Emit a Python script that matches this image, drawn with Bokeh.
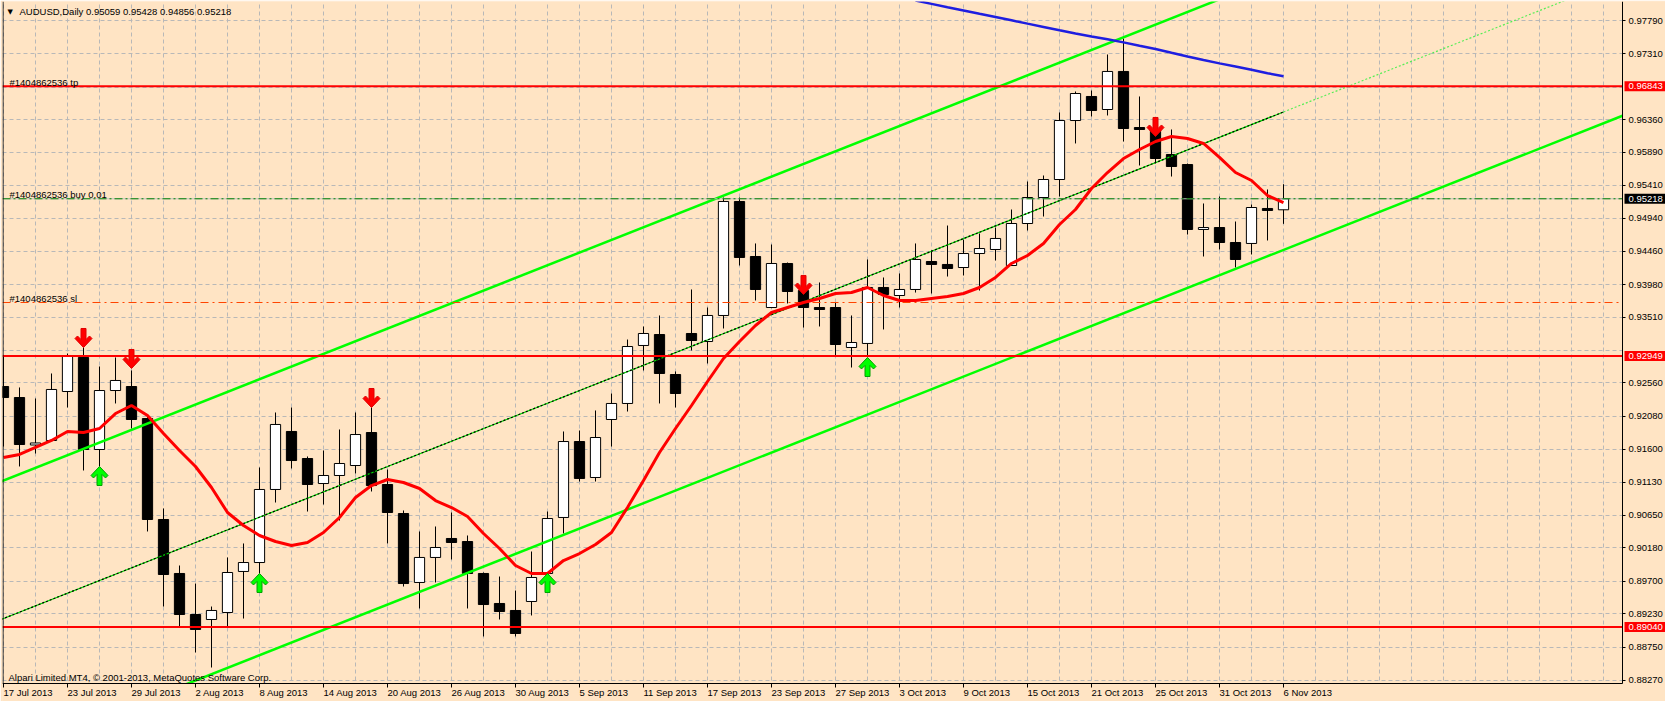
from bokeh.plotting import figure
from bokeh.models import Range1d, FixedTicker, PrintfTickFormatter
from bokeh.embed import file_html
from bokeh.resources import INLINE
from bokeh.core.properties import value

# ---------------- data ----------------
symbol = "AUDUSD,Daily"
date_labels = ["17 Jul 2013", "23 Jul 2013", "29 Jul 2013", "2 Aug 2013", "8 Aug 2013",
               "14 Aug 2013", "20 Aug 2013", "26 Aug 2013", "30 Aug 2013", "5 Sep 2013",
               "11 Sep 2013", "17 Sep 2013", "23 Sep 2013", "27 Sep 2013", "3 Oct 2013",
               "9 Oct 2013", "15 Oct 2013", "21 Oct 2013", "25 Oct 2013", "31 Oct 2013",
               "6 Nov 2013"]
label_bars = list(range(0, 81, 4))

open_ = [0.92509, 0.92350, 0.91665, 0.91730, 0.92437, 0.92928, 0.91600, 0.92451, 0.92509, 0.92047,
         0.90590, 0.89811, 0.89219, 0.89147, 0.89248, 0.89840, 0.89969, 0.91023, 0.91860, 0.91470,
         0.91109, 0.91225, 0.91369, 0.91845, 0.91095, 0.90676, 0.89681, 0.90042, 0.90316, 0.90272,
         0.89811, 0.89378, 0.89277, 0.89407, 0.89811, 0.90619, 0.91715, 0.91196, 0.92033, 0.92264,
         0.93101, 0.93259, 0.92682, 0.93274, 0.93158, 0.93534, 0.95179, 0.94385, 0.93649, 0.94284,
         0.93894, 0.93649, 0.93649, 0.93072, 0.93130, 0.93938, 0.93822, 0.93909, 0.94313, 0.94270,
         0.94226, 0.94428, 0.94486, 0.94255, 0.94861, 0.95236, 0.95496, 0.96347, 0.96694, 0.96506,
         0.97055, 0.96246, 0.96218, 0.95857, 0.95712, 0.94775, 0.94803, 0.94587, 0.94573, 0.95078,
         0.95059]
high = [0.92942, 0.92495, 0.92336, 0.92697, 0.92985, 0.93072, 0.92798, 0.92928, 0.92740, 0.92076,
        0.90749, 0.89926, 0.89666, 0.89334, 0.90042, 0.90244, 0.91340, 0.92134, 0.92206, 0.91499,
        0.91586, 0.91889, 0.92134, 0.92206, 0.91311, 0.90720, 0.90417, 0.90489, 0.90691, 0.90359,
        0.89825, 0.89767, 0.89565, 0.90128, 0.90705, 0.91860, 0.91874, 0.92163, 0.92408, 0.93187,
        0.93375, 0.93534, 0.92726, 0.93909, 0.93649, 0.95236, 0.95236, 0.94573, 0.94558, 0.94298,
        0.93923, 0.94010, 0.93721, 0.93534, 0.94342, 0.94082, 0.94140, 0.94573, 0.94472, 0.94832,
        0.94630, 0.94717, 0.94803, 0.95063, 0.95467, 0.95554, 0.96463, 0.96766, 0.96780, 0.97300,
        0.97531, 0.96694, 0.96246, 0.96218, 0.95727, 0.95150, 0.95251, 0.94890, 0.95135, 0.95352,
        0.95428]
low = [0.91643, 0.91355, 0.91542, 0.91720, 0.92206, 0.91297, 0.91355, 0.92264, 0.91903, 0.90417,
       0.89334, 0.89031, 0.88671, 0.88454, 0.89031, 0.89161, 0.89811, 0.90835, 0.91326, 0.90705,
       0.90806, 0.90575, 0.91254, 0.90994, 0.90244, 0.89623, 0.89306, 0.89681, 0.90013, 0.89306,
       0.88902, 0.89147, 0.88902, 0.89205, 0.89800, 0.90388, 0.91138, 0.91138, 0.91643, 0.92148,
       0.92740, 0.92264, 0.92206, 0.93029, 0.92841, 0.93346, 0.94255, 0.93750, 0.93640, 0.93707,
       0.93360, 0.93375, 0.92956, 0.92783, 0.92956, 0.93332, 0.93649, 0.93865, 0.93851, 0.94096,
       0.94111, 0.93894, 0.94327, 0.94250, 0.94760, 0.94962, 0.95251, 0.96016, 0.96405, 0.96420,
       0.96044, 0.95698, 0.95727, 0.95539, 0.94702, 0.94385, 0.94486, 0.94226, 0.94414, 0.94616,
       0.94856]
close = [0.92350, 0.91672, 0.91694, 0.92466, 0.92942, 0.91600, 0.92451, 0.92596, 0.92033, 0.90590,
         0.89796, 0.89219, 0.89003, 0.89277, 0.89825, 0.89969, 0.91023, 0.91961, 0.91441, 0.91095,
         0.91225, 0.91398, 0.91816, 0.91080, 0.90691, 0.89666, 0.90042, 0.90186, 0.90258, 0.89811,
         0.89363, 0.89262, 0.88945, 0.89753, 0.90604, 0.91715, 0.91182, 0.91773, 0.92264, 0.93086,
         0.93274, 0.92697, 0.92408, 0.93173, 0.93534, 0.95179, 0.94371, 0.93909, 0.94284, 0.93880,
         0.93649, 0.93620, 0.93115, 0.93144, 0.93938, 0.93837, 0.93909, 0.94342, 0.94270, 0.94212,
         0.94428, 0.94500, 0.94645, 0.94861, 0.95236, 0.95496, 0.96347, 0.96737, 0.96492, 0.97055,
         0.96232, 0.96218, 0.95799, 0.95684, 0.94775, 0.94803, 0.94587, 0.94342, 0.95092, 0.95049,
         0.95218]
ma_red = [0.91484, 0.91528, 0.91629, 0.91730, 0.91860, 0.91845, 0.91903, 0.92119, 0.92235, 0.92091,
          0.91831, 0.91586, 0.91355, 0.91052, 0.90691, 0.90503, 0.90359, 0.90272, 0.90215, 0.90258,
          0.90402, 0.90619, 0.90907, 0.91080, 0.91167, 0.91124, 0.91037, 0.90864, 0.90763, 0.90633,
          0.90388, 0.90171, 0.89926, 0.89811, 0.89811, 0.89998, 0.90099, 0.90229, 0.90402, 0.90763,
          0.91153, 0.91557, 0.91903, 0.92235, 0.92581, 0.92913, 0.93158, 0.93389, 0.93577, 0.93649,
          0.93721, 0.93779, 0.93851, 0.93865, 0.93938, 0.93822, 0.93750, 0.93750, 0.93779, 0.93808,
          0.93851, 0.93938, 0.94082, 0.94284, 0.94399, 0.94573, 0.94847, 0.95063, 0.95366, 0.95597,
          0.95799, 0.95929, 0.96044, 0.96117, 0.96088, 0.96016, 0.95814, 0.95597, 0.95482, 0.95265,
          0.95164]
blue_bars = list(range(57, 81))
ma_blue = [0.98078, 0.98030, 0.97982, 0.97935, 0.97887, 0.97840, 0.97793, 0.97745, 0.97698, 0.97650,
           0.97603, 0.97560, 0.97520, 0.97475, 0.97425, 0.97380, 0.97325, 0.97271, 0.97220, 0.97172,
           0.97128, 0.97080, 0.97030, 0.96986]

# regression channel anchors (bar index, middle price) and half-width
chan_bars = [0, 80]
chan_mid = [0.89161, 0.96471]
chan_half = 0.01991

# order / level lines
tp_price = 0.96843
buy_price = 0.95218
sl_price = 0.93721
red_levels = [0.96843, 0.92949, 0.89040]
order_id = "#1404862536"

# signal arrows (bar, price at arrow tip)
down_bars = [5, 8, 23, 50, 72]
down_prices = [0.93072, 0.92769, 0.92206, 0.93837, 0.96117]
up_bars = [6, 16, 34, 54]
up_prices = [0.91355, 0.89811, 0.89811, 0.92928]

ytick_vals = [0.97790, 0.97310, 0.96830, 0.96360, 0.95890, 0.95410, 0.94940, 0.94460, 0.93980,
              0.93510, 0.93030, 0.92560, 0.92080, 0.91600, 0.91130, 0.90650, 0.90180, 0.89700,
              0.89230, 0.88750, 0.88270]
hidden_ticks = [0.96830, 0.93030]

# ---------------- layout constants (pixels -> data) ----------------
BG = "#FFE4C4"
FONT = "Liberation Sans"
FS = "9.5px"
W, H = 1665, 701
LEFT, TOP = 2, 1               # frame starts here
AXIS_X_PX, AXIS_Y_PX = 1622, 683  # where the price axis and time axis sit
PX_PER_BAR = 16.0
PRICE_PER_PX = 0.0001443
PRICE_AT_TOP = 0.980646

ppx_x = 1.0 / PX_PER_BAR
ppx_y = PRICE_PER_PX
x0 = -1.0 / PX_PER_BAR
x1 = x0 + (W - LEFT) * ppx_x
y1 = PRICE_AT_TOP
y0 = y1 - (H - TOP) * ppx_y
xa = x0 + (AXIS_X_PX - LEFT) * ppx_x      # price axis location (data x)
ya_loc = y1 - (AXIS_Y_PX - TOP) * ppx_y   # time axis location (data y)

p = figure(width=W, height=H, x_range=Range1d(x0, x1), y_range=Range1d(y0, y1),
           output_backend="svg", toolbar_location=None, y_axis_location="right",
           min_border_left=LEFT, min_border_right=0, min_border_top=TOP, min_border_bottom=0,
           background_fill_color=BG, border_fill_color=BG, outline_line_color=None)

# grid
p.xgrid.ticker = FixedTicker(ticks=list(range(0, 102, 2)))
p.ygrid.ticker = FixedTicker(ticks=ytick_vals)
p.grid.grid_line_color = "#b8b8b8"
p.grid.grid_line_dash = "4 3"
p.grid.grid_line_width = 1

# time axis
xa_ax = p.xaxis[0]
xa_ax.fixed_location = ya_loc
xa_ax.bounds = (x0, xa)
xa_ax.ticker = FixedTicker(ticks=label_bars)
xa_ax.major_label_overrides = {b: d for b, d in zip(label_bars, date_labels)}
xa_ax.major_label_orientation = -1e-6          # labels start at their tick
xa_ax.major_tick_in = 0
xa_ax.major_tick_out = 4
xa_ax.minor_tick_line_color = None
xa_ax.major_label_standoff = 5
xa_ax.axis_line_color = "black"
xa_ax.major_tick_line_color = "black"
xa_ax.major_label_text_font = FONT
xa_ax.major_label_text_font_size = FS
xa_ax.major_label_text_color = "black"

# price axis
ya_ax = p.yaxis[0]
ya_ax.fixed_location = xa
ya_ax.bounds = (ya_loc, y1)
ya_ax.ticker = FixedTicker(ticks=[v for v in ytick_vals if v not in hidden_ticks])
ya_ax.formatter = PrintfTickFormatter(format="%.5f")
ya_ax.major_tick_in = 0
ya_ax.major_tick_out = 3
ya_ax.minor_tick_line_color = None
ya_ax.major_label_standoff = 3
ya_ax.axis_line_color = "black"
ya_ax.major_tick_line_color = "black"
ya_ax.major_label_text_font = FONT
ya_ax.major_label_text_font_size = FS
ya_ax.major_label_text_color = "black"

# candles
bars = list(range(len(close)))
p.segment(x0=bars, y0=low, x1=bars, y1=high, line_color="black", line_width=1)
tops = [max(o, c) for o, c in zip(open_, close)]
bots = [min(o, c) for o, c in zip(open_, close)]
fills = ["white" if c >= o else "black" for o, c in zip(open_, close)]
p.vbar(x=bars, width=0.64, top=tops, bottom=bots, fill_color=fills, line_color="black", line_width=1)

# regression channel
slope = (chan_mid[1] - chan_mid[0]) / (chan_bars[1] - chan_bars[0])
def mid_at(b):
    return chan_mid[0] + slope * (b - chan_bars[0])
xl = x0 - 1.0
p.line([xl, xa], [mid_at(xl) + chan_half, mid_at(xa) + chan_half], line_color="#00FF00", line_width=2.5)
p.line([xl, xa], [mid_at(xl) - chan_half, mid_at(xa) - chan_half], line_color="#00FF00", line_width=2.5)
p.line([xl, chan_bars[1]], [mid_at(xl), mid_at(chan_bars[1])], line_color="#00DD00", line_width=1.2)
p.line([xl, chan_bars[1]], [mid_at(xl), mid_at(chan_bars[1])], line_color="black", line_width=1.2,
       line_dash="2 2")
p.line([chan_bars[1], xa], [mid_at(chan_bars[1]), mid_at(xa)], line_color="#55EE55", line_width=1.2,
       line_dash="2 2")

# horizontal levels (from the left edge to the price axis)
p.segment(x0=[x0], y0=[buy_price], x1=[xa], y1=[buy_price], line_color="#c0c0c0", line_width=1)
p.segment(x0=[x0], y0=[buy_price], x1=[xa], y1=[buy_price], line_color="#008000", line_width=1,
          line_dash="8 3 2 3")
p.segment(x0=[x0], y0=[sl_price], x1=[xa], y1=[sl_price], line_color="#FF4500", line_width=1,
          line_dash="8 4 2 4")
p.segment(x0=[x0] * len(red_levels), y0=red_levels, x1=[xa] * len(red_levels), y1=red_levels,
          line_color="#FF0000", line_width=2)

# moving averages
p.line(bars, ma_red, line_color="#FF0000", line_width=3)
p.line(blue_bars, ma_blue, line_color="#1E1EE0", line_width=2.5)

# arrows
ARROW = [(-2.5, 19), (2.5, 19), (2.5, 8), (6, 11.5), (8.5, 9), (0, 0), (-8.5, 9), (-6, 11.5), (-2.5, 8)]
def arrow(bar, price, sign):
    return ([bar + dx * ppx_x for dx, dy in ARROW], [price + sign * dy * ppx_y for dx, dy in ARROW])
dxs, dys = zip(*[arrow(b, pr, 1) for b, pr in zip(down_bars, down_prices)])
p.patches(list(dxs), list(dys), fill_color="#FF0000", line_color="#E00000", line_width=1)
uxs, uys = zip(*[arrow(b, pr, -1) for b, pr in zip(up_bars, up_prices)])
p.patches(list(uxs), list(uys), fill_color="#00FF00", line_color="#00A000", line_width=1)

# texts inside the chart
lx = x0 + 7 * ppx_x
p.text(x=[lx, lx, lx], y=[tp_price, buy_price, sl_price],
       text=[order_id + " tp", order_id + " buy 0.01", order_id + " sl"],
       text_font=value(FONT), text_font_size=FS, text_color="black",
       text_baseline="alphabetic", text_align="left", y_offset=-4)
header = "%s  %.5f %.5f %.5f %.5f" % (symbol, open_[-1], high[-1], low[-1], close[-1])
p.text(x=[x0 + 17 * ppx_x], y=[y1], text=[header], text_font=value(FONT), text_font_size=FS,
       text_color="black", text_baseline="middle", text_align="left", y_offset=10)
p.text(x=[x0 + 5 * ppx_x], y=[y1], text=["\u25BC"], text_font=value("DejaVu Sans"),
       text_font_size="7px", text_color="black", text_baseline="middle", text_align="left", y_offset=10)
p.text(x=[x0 + 6 * ppx_x], y=[ya_loc], text=["Alpari Limited MT4, \u00A9 2001-2013, MetaQuotes Software Corp."],
       text_font=value(FONT), text_font_size=FS, text_color="black",
       text_baseline="alphabetic", text_align="left", y_offset=-6)

# left border of the chart window
p.segment(x0=[x0 + 0.5 * ppx_x], y0=[ya_loc], x1=[x0 + 0.5 * ppx_x], y1=[y1], line_color="black", line_width=1)

# covers for the axis margins (right of the price axis, below the time axis)
p.quad(left=[xa, x0 - 1], right=[x1 + 1, x1 + 1], bottom=[y0 - 0.01, y0 - 0.01], top=[y1 + 0.01, ya_loc],
       fill_color=BG, line_color=None)

# price boxes on the price axis
box_prices = red_levels + [close[-1]]
box_colors = ["#FF0000"] * len(red_levels) + ["black"]
p.quad(left=[xa + 2 * ppx_x] * len(box_prices), right=[x1 + 1] * len(box_prices),
       bottom=[v - 5 * ppx_y for v in box_prices], top=[v + 5 * ppx_y for v in box_prices],
       fill_color=box_colors, line_color=None)
p.text(x=[xa + 6 * ppx_x] * len(box_prices), y=box_prices, text=["%.5f" % v for v in box_prices],
       text_font=value(FONT), text_font_size=FS, text_color="white",
       text_baseline="middle", text_align="left")

open("out.html", "w").write(file_html(p, INLINE))
